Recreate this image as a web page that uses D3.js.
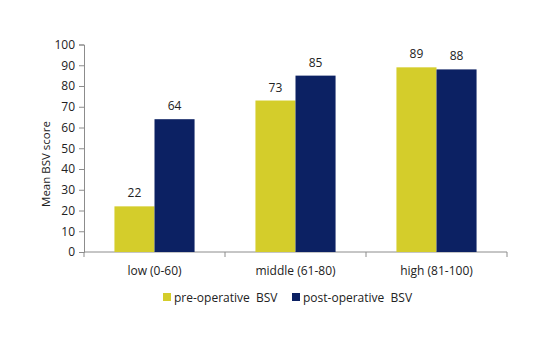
<!DOCTYPE html>
<html><head><meta charset="utf-8">
<script src="https://cdn.jsdelivr.net/npm/d3@7"></script>
<style>body{margin:0;background:#fff}</style>
</head><body>
<svg id="c" width="550" height="340"></svg>
<script>
const categories = ["low (0-60)", "middle (61-80)", "high (81-100)"];
const seriesNames = ["pre-operative  BSV", "post-operative  BSV"];
const preValues = [22, 73, 89];
const postValues = [64, 85, 88];
const yTicks = [0,10,20,30,40,50,60,70,80,90,100];
const colors = ["#d4cd2b", "#0c2163"];

const svg = d3.select("#c");
const font = "'Open Sans', 'Liberation Sans', sans-serif";
const plotLeft = 84, plotRight = 507, plotTop = 44.5, plotBottom = 252;

const x = d3.scaleBand().domain(categories).range([plotLeft, plotRight]).padding(0);
const x1 = d3.scaleBand().domain([0,1]).range([0, x.bandwidth()]).paddingInner(0).paddingOuter(0.76);
const y = d3.scaleLinear().domain([0,100]).range([plotBottom, plotTop]);

// y axis
const ya = svg.append("g").attr("transform", `translate(${plotLeft},0)`)
  .call(d3.axisLeft(y).tickValues(yTicks).tickSize(5).tickPadding(4));
ya.selectAll("text").attr("font-family", font).attr("font-size", 12).attr("fill", "#222");
ya.selectAll("line,path").attr("stroke", "#8c8c8c");

// x axis
const xa = svg.append("g").attr("transform", `translate(0,${plotBottom})`);
xa.append("line").attr("x1", plotLeft).attr("x2", plotRight).attr("y1", 0).attr("y2", 0).attr("stroke", "#8c8c8c");
const bounds = categories.map(c => x(c)).concat([plotRight]);
xa.selectAll("line.t").data(bounds).join("line").attr("class","t")
  .attr("x1", d => d).attr("x2", d => d).attr("y1", 0).attr("y2", 5).attr("stroke", "#8c8c8c");
xa.selectAll("text").data(categories).join("text")
  .attr("x", d => x(d) + x.bandwidth()/2).attr("y", 23)
  .attr("text-anchor", "middle").attr("font-family", font).attr("font-size", 12).attr("fill", "#222")
  .text(d => d);

// bars
const data = categories.map((c,i) => ({c, v:[preValues[i], postValues[i]]}));
const g = svg.append("g");
data.forEach(d => {
  d.v.forEach((v, j) => {
    const bx = x(d.c) + x1(j);
    g.append("rect").attr("x", bx).attr("y", y(v)).attr("width", x1.bandwidth()).attr("height", y(0) - y(v)).attr("fill", colors[j]);
    g.append("text").attr("x", bx + x1.bandwidth()/2).attr("y", y(v) - 9)
      .attr("text-anchor", "middle").attr("font-family", font).attr("font-size", 12).attr("fill", "#222").text(v);
  });
});

// y title
svg.append("text").attr("transform", `translate(50,164) rotate(-90)`)
  .attr("text-anchor", "middle").attr("font-family", font).attr("font-size", 11.5).attr("fill", "#222")
  .text("Mean BSV score");

// legend
const legX = [163, 292];
seriesNames.forEach((n, i) => {
  svg.append("rect").attr("x", legX[i]).attr("y", 293).attr("width", 8).attr("height", 8).attr("fill", colors[i]);
  svg.append("text").attr("x", legX[i] + 11).attr("y", 301.5).attr("font-family", font).attr("font-size", 12)
    .attr("fill", "#222").attr("xml:space", "preserve").style("white-space", "pre").text(n);
});
</script>
</body></html>
